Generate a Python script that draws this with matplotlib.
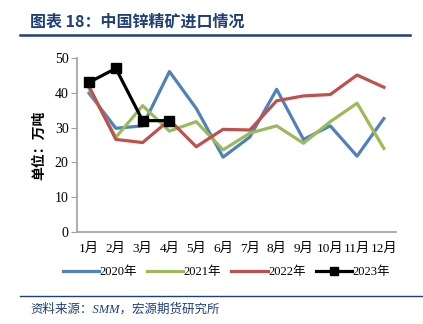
"""China zinc concentrate imports by month, 2020-2023."""

import matplotlib
matplotlib.use("Agg")
import matplotlib.pyplot as plt
from matplotlib.lines import Line2D

plt.rcParams["font.family"] = ["Liberation Serif", "Noto Sans CJK SC"]

months = ["1月", "2月", "3月", "4月", "5月", "6月", "7月", "8月", "9月", "10月", "11月", "12月"]
imports_2020 = [39.9, 29.8, 30.5, 46.1, 35.5, 21.5, 27.3, 41.0, 26.6, 30.5, 21.8, 32.6]
imports_2021 = [41.3, 27.2, 36.3, 29.0, 31.7, 23.6, 28.4, 30.5, 25.5, 31.7, 37.0, 24.0]
imports_2022 = [41.8, 26.6, 25.7, 32.2, 24.5, 29.5, 29.3, 37.7, 39.1, 39.5, 45.1, 41.6]
imports_2023 = [43.0, 47.0, 32.0, 32.0]

series = [
    ("2020年", imports_2020, "#4F81BD", None),
    ("2021年", imports_2021, "#9BBB59", None),
    ("2022年", imports_2022, "#C0504D", None),
    ("2023年", imports_2023, "black", "s"),
]

NAVY = "#1F3F7A"

fig = plt.figure(figsize=(4.23, 3.24), dpi=100)
ax = fig.add_axes([0.182, 0.284, 0.754, 0.537])

x = list(range(len(months)))
for label, vals, color, marker in series:
    ax.plot(x[:len(vals)], vals, color=color, lw=2.3, marker=marker,
            markersize=7, label=label)

ax.set_xlim(-0.45, 11.45)
ax.set_ylim(0, 50)
ax.set_yticks(range(0, 51, 10))
ax.set_xticks(x)
ax.set_xticklabels(months, fontsize=9.5)
ax.tick_params(axis="y", labelsize=10, length=4, color="#A0A0A0", pad=2)
ax.tick_params(axis="x", length=0, pad=8)
for side in ("top", "right"):
    ax.spines[side].set_visible(False)
for side in ("left", "bottom"):
    ax.spines[side].set_color("#A0A0A0")
    ax.spines[side].set_linewidth(1.2)

ax.set_ylabel("单位：万吨", fontsize=10, fontweight="bold", labelpad=6)

handles = [Line2D([], [], color=c, lw=2.3, marker=m, markersize=6)
           for _, _, c, m in series]
fig.legend(handles, [s[0] for s in series], loc="center",
           bbox_to_anchor=(0.535, 0.16), ncol=4, frameon=False, fontsize=9,
           handlelength=2.9, handletextpad=0.05, columnspacing=0.8)

# Title with rule underneath
fig.text(0.071, 0.932, "图表 18：中国锌精矿进口情况", fontsize=11.5,
         fontweight="bold", color=NAVY, va="center",
         family=["Noto Sans CJK SC"])
fig.add_artist(Line2D([0.047, 0.97], [0.892, 0.892], color=NAVY, lw=1.8))

# Source line
fig.add_artist(Line2D([0.047, 1.0], [0.086, 0.086], color=NAVY, lw=1.0))
fig.text(0.071, 0.046, "资料来源：SMM，宏源期货研究所", fontsize=9,
         style="italic", color=NAVY, va="center")

fig.savefig("out.png", dpi=100)
